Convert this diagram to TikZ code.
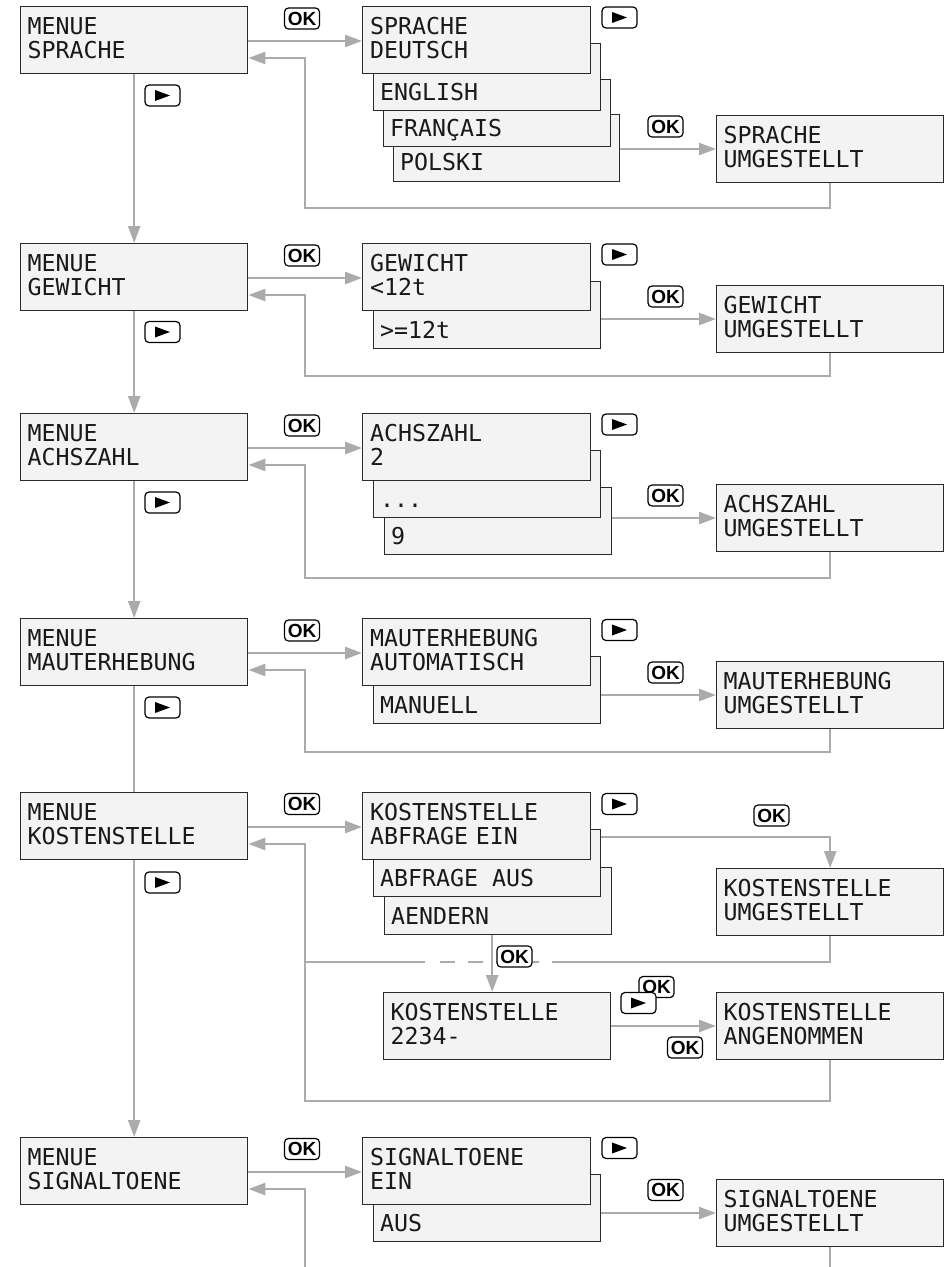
\documentclass[tikz,border=0pt]{standalone}
\usepackage{fontspec}
\usetikzlibrary{arrows.meta,calc}
\newfontfamily\lcdfont{DejaVu Sans Mono}
\newfontfamily\keyfont{Liberation Sans}
\definecolor{lcdfill}{HTML}{F3F3F3}
\definecolor{lcdline}{HTML}{2A2A2A}
\definecolor{conncol}{HTML}{ABABAB}
\tikzset{
  lcdbox/.style={draw=lcdline, line width=1.4pt, fill=lcdfill, anchor=north west,
    minimum width=227pt, minimum height=67pt, inner sep=0pt},
  lcd2/.style={lcdbox, text width=213pt, inner xsep=7pt, align=left,
    font=\lcdfont\fontsize{23.25pt}{24pt}\selectfont, text=black!90,
    execute at end node={\rule[-4pt]{0pt}{4pt}}},
  lcdtxt/.style={anchor=base west, inner sep=0pt,
    font=\lcdfont\fontsize{23.25pt}{24pt}\selectfont, text=black!90},
  conn/.style={draw=conncol, line width=2.5pt},
  arr/.style={-{Triangle[length=17pt,width=12pt]}},
  keybox/.style={draw=black, line width=1.2pt, rounded corners=4pt, fill=white,
    minimum width=35pt, minimum height=21pt, inner sep=0pt},
  okkey/.style={keybox, font=\keyfont\bfseries\fontsize{19pt}{19pt}\selectfont},
  playkey/.style={keybox, path picture={
    \fill[black, sharp corners] ([xshift=-7.5pt,yshift=5.5pt]path picture bounding box.center)
      -- ++(15pt,-5.5pt) -- ++(-15pt,-5.5pt) -- cycle;}},
}
\begin{document}
\begin{tikzpicture}[x=1pt,y=-1pt]
\useasboundingbox[fill=white] (0,0) rectangle (949,1267);

% ===== Section 1: SPRACHE =====
\node[lcdbox, minimum width=226pt] (s1d) at (393,114) {};
\node[lcdtxt] (t1d) at ([xshift=7pt,yshift=12pt]s1d.south west) {POLSKI};
\node[lcdbox] (s1c) at (383,79) {};
\node[lcdtxt] (t1c) at ([xshift=7pt,yshift=11pt]s1c.south west) {FRANÇAIS};
\node[lcdbox] (s1b) at (373,43) {};
\node[lcdtxt] (t1b) at ([xshift=7pt,yshift=11pt]s1b.south west) {ENGLISH};
\node[lcd2, minimum width=228pt] (s1a) at (362,6) {SPRACHE\\DEUTSCH};
\node[lcd2] (m1) at (20,6) {MENUE\\SPRACHE};
\node[lcd2] (r1) at (716,115) {SPRACHE\\UMGESTELLT};

% ===== Section 2: GEWICHT =====
\node[lcdbox] (s2b) at (373,281) {};
\node[lcdtxt] (t2b) at ([xshift=7pt,yshift=11pt]s2b.south west) {>=12t};
\node[lcd2, minimum width=228pt] (s2a) at (362,243) {GEWICHT\\<12t};
\node[lcd2] (m2) at (20,243) {MENUE\\GEWICHT};
\node[lcd2] (r2) at (716,285) {GEWICHT\\UMGESTELLT};

% ===== Section 3: ACHSZAHL =====
\node[lcdbox] (s3c) at (384,487) {};
\node[lcdtxt] (t3c) at ([xshift=7pt,yshift=11pt]s3c.south west) {9};
\node[lcdbox] (s3b) at (373,450) {};
\node[lcdtxt] (t3b) at ([xshift=7pt,yshift=11pt]s3b.south west) {...};
\node[lcd2, minimum width=228pt] (s3a) at (362,413) {ACHSZAHL\\2};
\node[lcd2] (m3) at (20,413) {MENUE\\ACHSZAHL};
\node[lcd2] (r3) at (716,484) {ACHSZAHL\\UMGESTELLT};

% ===== Section 4: MAUTERHEBUNG =====
\node[lcdbox] (s4b) at (373,656) {};
\node[lcdtxt] (t4b) at ([xshift=7pt,yshift=11pt]s4b.south west) {MANUELL};
\node[lcd2, minimum width=228pt] (s4a) at (362,618) {MAUTERHEBUNG\\AUTOMATISCH};
\node[lcd2] (m4) at (20,618) {MENUE\\MAUTERHEBUNG};
\node[lcd2] (r4) at (716,661) {MAUTERHEBUNG\\UMGESTELLT};

% ===== Section 5: KOSTENSTELLE =====
\node[lcdbox] (s5c) at (384,867) {};
\node[lcdtxt] (t5c) at ([xshift=7pt,yshift=11pt]s5c.south west) {AENDERN};
\node[lcdbox] (s5b) at (373,829) {};
\node[lcdtxt] (t5b) at ([xshift=7pt,yshift=11pt]s5b.south west) {ABFRAGE AUS};
\node[lcd2, minimum width=228pt] (s5a) at (362,792) {KOSTENSTELLE\\ABFRAGE EIN};
\node[lcd2] (m5) at (20,792) {MENUE\\KOSTENSTELLE};
\node[lcd2] (r5a) at (716,868) {KOSTENSTELLE\\UMGESTELLT};
\node[lcd2] (k5) at (383,992) {KOSTENSTELLE\\2234-};
\node[lcd2] (r5b) at (716,992) {KOSTENSTELLE\\ANGENOMMEN};

% ===== Section 6: SIGNALTOENE =====
\node[lcdbox] (s6b) at (373,1174) {};
\node[lcdtxt] (t6b) at ([xshift=7pt,yshift=11pt]s6b.south west) {AUS};
\node[lcd2, minimum width=228pt] (s6a) at (362,1137) {SIGNALTOENE\\EIN};
\node[lcd2] (m6) at (20,1137) {MENUE\\SIGNALTOENE};
\node[lcd2] (r6) at (716,1179) {SIGNALTOENE\\UMGESTELLT};

% ===== main vertical chain =====
\draw[conn,arr] (m1.south) -- (m2.north);
\draw[conn,arr] (m2.south) -- (m3.north);
\draw[conn,arr] (m3.south) -- (m4.north);
\draw[conn] (m4.south) -- (m5.north);
\draw[conn,arr] (m5.south) -- (m6.north);

% ===== section connectors (standard sections) =====
\foreach \m/\s/\l/\r/\cy in {m1/s1a/s1d/r1/208, m2/s2a/s2b/r2/376, m3/s3a/s3c/r3/578, m4/s4a/s4b/r4/752}{
  \coordinate (\m o) at ([yshift=-35pt]\m.north east);
  \coordinate (\m r) at ([yshift=-52pt]\m.north east);
  \coordinate (\r o) at ([yshift=-34pt]\r.north west);
  \coordinate (\m c) at (305,\cy);
  \draw[conn,arr] (\m o) -- (\m o -| \s.west);
  \draw[conn,arr] (\l.east |- \r o) -- (\r o);
  \draw[conn,arr] (\r.south) |- (\m c) |- (\m r);
}

% ===== section 5 connectors =====
\coordinate (m5o) at ([yshift=-35pt]m5.north east);
\coordinate (m5r) at ([yshift=-52pt]m5.north east);
\draw[conn,arr] (m5o) -- (m5o -| s5a.west);
\coordinate (s5o) at ([yshift=-8pt]s5b.north east);
\draw[conn,arr] (s5o) -| (r5a.north);
\coordinate (c5a) at (305,962);
\coordinate (d5L) at (425,962);
\coordinate (d5a) at (440,962);
\coordinate (d5R) at (555,962);
\draw[conn] (r5a.south) |- (d5R);
\draw[conn, dash pattern=on 15pt off 13pt] (d5a) -- (d5R);
\draw[conn] (d5L) -- (c5a);
\draw[conn,arr] ([xshift=-6pt]s5c.south) -- ([xshift=-6pt]s5c.south |- k5.north);
\coordinate (k5o) at ([yshift=-34pt]k5.north east);
\draw[conn,arr] (k5o) -- (k5o -| r5b.west);
\coordinate (c5b) at (305,1101);
\draw[conn,arr] (r5b.south) |- (c5b) |- (m5r);

% ===== section 6 connectors =====
\coordinate (m6o) at ([yshift=-35pt]m6.north east);
\coordinate (m6r) at ([yshift=-52pt]m6.north east);
\coordinate (r6o) at ([yshift=-34pt]r6.north west);
\draw[conn,arr] (m6o) -- (m6o -| s6a.west);
\draw[conn,arr] (s6b.east |- r6o) -- (r6o);
\coordinate (e6a) at (305,1280);
\draw[conn,arr] (e6a) |- (m6r);
\draw[conn] (r6.south) -- (r6.south |- e6a);

% ===== key labels =====
\node[okkey] (ok1a) at (302,18.5) {OK};
\node[playkey] (pl1a) at (619.5,17.5) {};
\node[okkey] (ok1b) at (665.5,126.5) {OK};
\node[playkey] (pl1b) at (162.5,95.5) {};

\node[okkey] (ok2a) at (302,255.5) {OK};
\node[playkey] (pl2a) at (619.5,254.5) {};
\node[okkey] (ok2b) at (665.5,296.5) {OK};
\node[playkey] (pl2b) at (162.5,332) {};

\node[okkey] (ok3a) at (302,425.5) {OK};
\node[playkey] (pl3a) at (619.5,424.5) {};
\node[okkey] (ok3b) at (665.5,495.5) {OK};
\node[playkey] (pl3b) at (162.5,502.5) {};

\node[okkey] (ok4a) at (302,630.5) {OK};
\node[playkey] (pl4a) at (619.5,630) {};
\node[okkey] (ok4b) at (665.5,672.5) {OK};
\node[playkey] (pl4b) at (162.5,707.5) {};

\node[okkey] (ok5a) at (302,804) {OK};
\node[playkey] (pl5a) at (619.5,804) {};
\node[okkey] (ok5b) at (771.5,815.5) {OK};
\node[playkey] (pl5b) at (162.5,882.5) {};
\node[okkey] (ok5c) at (514.5,956.5) {OK};
\node[okkey] (ok5d) at (656.5,987) {OK};
\node[playkey] (pl5c) at (638.5,1003) {};
\node[okkey] (ok5e) at (685,1047.5) {OK};

\node[okkey] (ok6a) at (302,1149) {OK};
\node[playkey] (pl6a) at (619.5,1148) {};
\node[okkey] (ok6b) at (665.5,1190) {OK};
\end{tikzpicture}
\end{document}
